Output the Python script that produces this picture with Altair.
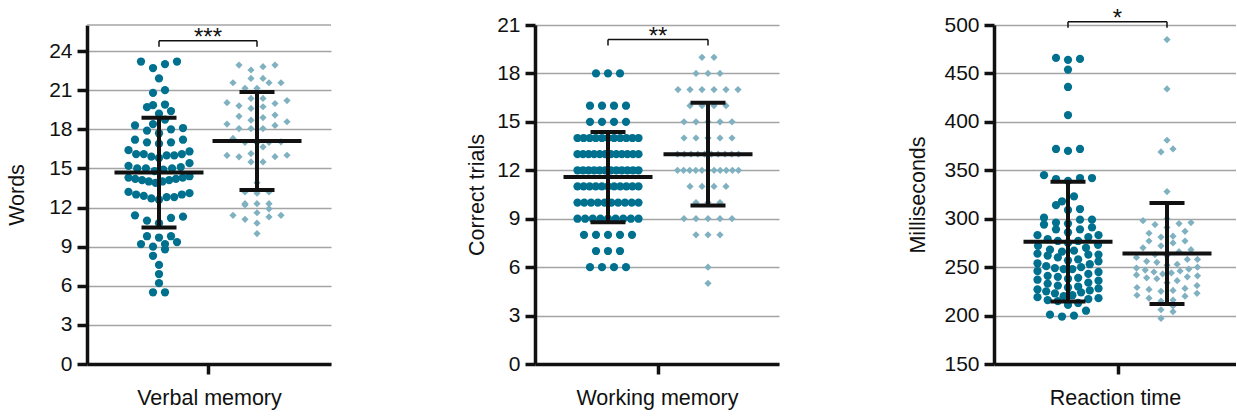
import altair as alt
import numpy as np
import pandas as pd

# ---------------- data ----------------
# Verbal memory (words): dark circles = group A, light diamonds = group B
verbal_a = [23.2, 22.7, 23.0, 23.2, 21.9, 20.8, 21.0, 19.9, 19.85, 19.7, 19.4, 19.2,
            18.75, 18.4, 18.1, 18.3, 17.7, 17.9, 18.0, 17.2, 17.2, 17.0, 17.0, 16.9,
            16.1, 16.0, 16.3, 16.4, 16.1, 16.1, 15.8, 15.9, 16.0, 15.4, 15.1, 15.0,
            15.0, 14.9, 15.2, 14.8, 15.0, 14.3, 14.2, 14.0, 14.1, 14.4, 14.2, 14.0,
            13.9, 14.3, 14.1, 13.1, 13.0, 12.8, 12.9, 13.0, 12.8, 12.6, 13.2, 12.7,
            11.4, 11.2, 11.0, 11.3, 10.8, 9.8, 9.0, 9.35, 9.2, 9.7, 9.2, 9.8, 8.8,
            8.3, 7.6, 6.9, 6.2, 5.5, 5.5]
verbal_b = [22.55, 22.93, 22.8, 22.93, 21.9, 21.57, 21.57, 21.57, 21.9, 21.14, 21.14,
            20.37, 20.04, 19.73, 19.8, 19.6, 19.98, 20.2, 20.37, 19.09, 18.9, 18.7,
            19.0, 18.06, 18.06, 18.4, 18.3, 18.58, 18.06, 17.04, 16.65, 17.0, 17.3,
            17.0, 16.96, 16.01, 15.89, 16.14, 16.0, 15.5, 15.9, 15.5, 13.2, 13.1,
            13.2, 13.9, 11.9, 12.3, 12.2, 12.3, 12.3, 11.4, 11.28, 11.6, 11.4, 10.8,
            11.1, 10.0]
verbal_ticks = [0, 3, 6, 9, 12, 15, 18, 21, 24]

# Working memory (correct trials): integer scores and how many dots sit on each row
work_levels = [19, 18, 17, 16, 15, 14, 13, 12, 11, 10, 9, 8, 7, 6, 5]
work_a_counts = [0, 3, 0, 4, 4, 11, 12, 12, 11, 10, 9, 5, 3, 4, 0]
work_b_counts = [2, 3, 6, 4, 5, 5, 10, 11, 4, 3, 5, 3, 0, 1, 1]
work_ticks = [0, 3, 6, 9, 12, 15, 18, 21]

# Reaction time (milliseconds)
rt_a = [466, 464, 465, 454, 436, 407, 372, 370, 372,
        342, 339, 341, 342, 345, 323, 318, 314, 310, 309, 301, 299, 299, 296,
        294, 295, 291, 289, 289, 283, 283, 286,
        281, 279, 277, 277, 275, 273, 272, 270, 268, 267, 266, 264, 263, 263,
        262, 260, 258, 257, 256, 254, 253, 251, 250, 249, 248, 248, 246, 245,
        243, 241, 240, 239, 238, 237, 236, 234, 233, 231, 230, 229, 228, 227,
        226, 225, 224, 223, 221, 220, 219, 218, 217, 216, 215, 213, 211,
        201, 199, 200, 205]
rt_b = [485, 434, 381, 369, 372,
        328, 300, 298, 296, 295, 294, 291, 287, 285, 282, 281, 277, 277, 275,
        272, 270, 268, 266, 263, 262, 260, 258, 258, 256, 255, 253, 252, 250,
        249, 248, 247, 246, 245, 244, 243, 242, 241, 240, 239, 238, 236, 234,
        231, 229, 228, 227, 226, 225, 223, 221, 220, 218, 216, 215, 210, 206,
        204, 197]
rt_ticks = [150, 200, 250, 300, 350, 400, 450, 500]

titles_y = ["Words", "Correct trials", "Milliseconds"]
titles_x = ["Verbal memory", "Working memory", "Reaction time"]
stars = ["***", "**", "*"]

# ---------------- styling ----------------
DARK = "#00708f"
LIGHT = "#80b1c1"
FONT = "Liberation Sans"
H = 339


def expand(levels, counts):
    out = []
    for lv, c in zip(levels, counts):
        out.extend([lv] * c)
    return out


def swarm(values, center, ppu, bin_px=8.0, step_px=12.0, max_w=61.0):
    """Prism-like scatter-dot layout: group nearby values in rows, spread rows sideways."""
    v = sorted(float(x) for x in values)
    rows, cur = [], [v[0]]
    for x in v[1:]:
        if (x - cur[0]) * ppu <= bin_px:
            cur.append(x)
        else:
            rows.append(cur)
            cur = [x]
    rows.append(cur)
    xs, ys = [], []
    for r in rows:
        n = len(r)
        step = step_px if n == 1 else min(step_px, max_w / (n - 1))
        slots = [(k - (n - 1) / 2) * step for k in range(n)]
        order = sorted(range(n), key=lambda k: (round(abs(slots[k]), 6), slots[k] * (1 if k % 2 else -1)))
        for val, k in zip(sorted(r), order):
            xs.append(center + slots[k])
            ys.append(val)
    return xs, ys


def panel(a, b, dom, ticks, ytitle, xtitle, star, bracket_y, centers, width, tpad, top_grid=None):
    ppu = H / (dom[1] - dom[0])
    xs = alt.Scale(domain=[0, width], nice=False, zero=False)
    ys = alt.Scale(domain=dom, nice=False, zero=False)
    xa, ya = swarm(a, centers[0], ppu)
    xb, yb = swarm(b, centers[1], ppu)
    da = pd.DataFrame({"x": xa, "y": ya})
    db = pd.DataFrame({"x": xb, "y": yb})

    xax = alt.Axis(values=[(centers[0] + centers[1]) / 2], labels=False, grid=False,
                   title=xtitle, titlePadding=12)
    yax = alt.Axis(values=ticks, grid=True, title=ytitle, titlePadding=tpad, labelPadding=5)

    def X(f):
        return alt.X(f, scale=xs, axis=xax)

    def Y(f):
        return alt.Y(f, scale=ys, axis=yax)

    circles = alt.Chart(da).mark_point(shape="circle", filled=True, size=68, opacity=1,
                                       color=DARK).encode(x=X("x:Q"), y=Y("y:Q"))
    diamonds = alt.Chart(db).mark_point(shape="diamond", filled=True, size=52, opacity=1,
                                        color=LIGHT).encode(x=X("x:Q"), y=Y("y:Q"))

    means = [float(np.mean(a)), float(np.mean(b))]
    sds = [float(np.std(a, ddof=1)), float(np.std(b, ddof=1))]
    summ = pd.DataFrame({
        "c": list(centers), "m": means,
        "lo": [m - s for m, s in zip(means, sds)],
        "hi": [m + s for m, s in zip(means, sds)],
        "ml": [c - 44.5 for c in centers], "mr": [c + 44.5 for c in centers],
        "cl": [c - 17.5 for c in centers], "cr": [c + 17.5 for c in centers],
    })
    bar = alt.Chart(summ).mark_rule(color="#111111", strokeWidth=4)
    meanline = bar.encode(x=X("ml:Q"), x2="mr", y=Y("m:Q"))
    vline = bar.encode(x=X("c:Q"), y=Y("lo:Q"), y2="hi")
    caphi = bar.encode(x=X("cl:Q"), x2="cr", y=Y("hi:Q"))
    caplo = bar.encode(x=X("cl:Q"), x2="cr", y=Y("lo:Q"))

    br = pd.DataFrame({"x1": [centers[0]], "x2": [centers[1]], "y": [bracket_y],
                       "xm": [(centers[0] + centers[1]) / 2], "t": [star]})
    ends = pd.DataFrame({"x": list(centers), "y": [bracket_y] * 2,
                         "y2": [bracket_y - 6 / ppu] * 2})
    hbr = alt.Chart(br).mark_rule(color="#111111", strokeWidth=1.5).encode(
        x=X("x1:Q"), x2="x2", y=Y("y:Q"))
    vbr = alt.Chart(ends).mark_rule(color="#111111", strokeWidth=1.5).encode(
        x=X("x:Q"), y=Y("y:Q"), y2="y2")
    txt = alt.Chart(br).mark_text(font=FONT, fontSize=24, baseline="alphabetic", dy=4,
                                  color="#111111").encode(
        x=X("xm:Q"), y=Y("y:Q"), text="t:N")

    layers = [circles, diamonds]
    if top_grid is not None:
        tg = pd.DataFrame({"y": [top_grid]})
        layers.insert(0, alt.Chart(tg).mark_rule(color="#a4a4a4", strokeWidth=1.6).encode(
            x=alt.value(0), x2=alt.value(width), y=Y("y:Q")))
    layers += [meanline, vline, caphi, caplo, hbr, vbr, txt]
    return alt.layer(*layers).properties(width=width, height=H)


work_a = expand(work_levels, work_a_counts)
work_b = expand(work_levels, work_b_counts)

p1 = panel(verbal_a, verbal_b, [0, 26], verbal_ticks, titles_y[0], titles_x[0], stars[0],
           24.8, (72, 170), 244, 20, top_grid=26)
p2 = panel(work_a, work_b, [0, 21], work_ticks, titles_y[1], titles_x[1], stars[1],
           20.1, (73, 173), 244, 8)
p3 = panel(rt_a, rt_b, [150, 500], rt_ticks, titles_y[2], titles_x[2], stars[2],
           503.4, (74, 173), 242, 14)

chart = alt.hconcat(alt.hconcat(p1, p2, spacing=134), p3, spacing=128).configure_view(
    stroke=None
).configure_axis(
    domainColor="#111111", domainWidth=3.5, tickColor="#111111", tickWidth=3.5, tickSize=10,
    labelFont=FONT, labelFontSize=21, labelColor="#111111",
    titleFont=FONT, titleFontSize=21.5, titleFontWeight="normal", titleColor="#111111",
    gridColor="#a4a4a4", gridWidth=1.6,
).properties(
    padding={"left": 6, "top": 6, "right": 0, "bottom": 0},
    background="white",
)

chart.save("out.html", embed_options={"renderer": "svg", "actions": False})
